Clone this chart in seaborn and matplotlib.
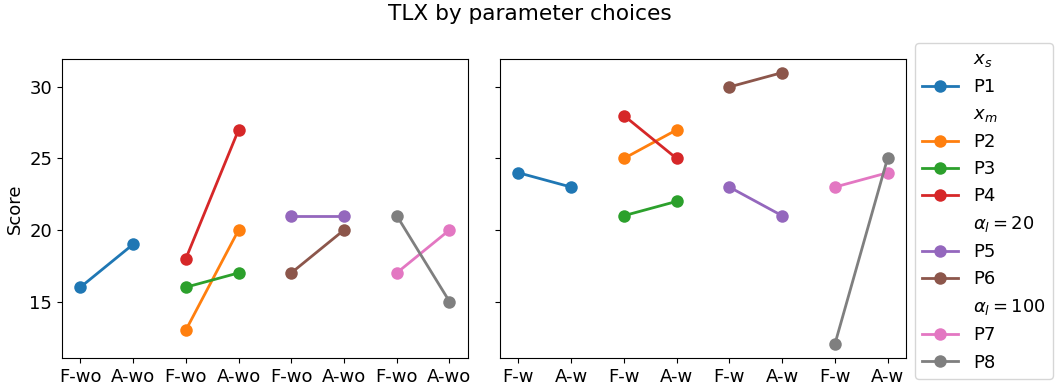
import pandas as pd
import matplotlib.pyplot as plt
import seaborn as sns
from matplotlib.lines import Line2D

# participants and their groups
participants = ["P1", "P2", "P3", "P4", "P5", "P6", "P7", "P8"]
groups = [
    ("$x_s$", ["P1"]),
    ("$x_m$", ["P2", "P3", "P4"]),
    ("$\\alpha_l = 20$", ["P5", "P6"]),
    ("$\\alpha_l = 100$", ["P7", "P8"]),
]

# slot of each participant pair on the x axis (0..3)
slot = [0, 1, 1, 1, 2, 2, 3, 3]

# scores: (first, second) condition
wo_first = [16, 13, 16, 18, 21, 17, 17, 21]
wo_second = [19, 20, 17, 27, 21, 20, 20, 15]
w_first = [24, 25, 21, 28, 23, 30, 23, 12]
w_second = [23, 27, 22, 25, 21, 31, 24, 25]

left_labels = ["F-wo", "A-wo"] * 4
right_labels = ["F-w", "A-w"] * 4

plt.rcParams["font.size"] = 13

rows = []
for i, p in enumerate(participants):
    rows.append({"panel": "wo", "participant": p, "pos": 2 * slot[i], "score": wo_first[i]})
    rows.append({"panel": "wo", "participant": p, "pos": 2 * slot[i] + 1, "score": wo_second[i]})
    rows.append({"panel": "w", "participant": p, "pos": 2 * slot[i], "score": w_first[i]})
    rows.append({"panel": "w", "participant": p, "pos": 2 * slot[i] + 1, "score": w_second[i]})
df = pd.DataFrame(rows)

palette = dict(zip(participants, sns.color_palette("tab10", 8)))

fig, axes = plt.subplots(1, 2, figsize=(10.59, 3.86), dpi=100, sharey=True)
fig.subplots_adjust(left=0.0585, right=0.8555, bottom=0.0725, top=0.847, wspace=0.079)

for ax, panel, labels in zip(axes, ["wo", "w"], [left_labels, right_labels]):
    sns.lineplot(data=df[df["panel"] == panel], x="pos", y="score", hue="participant",
                 palette=palette, marker="o", markersize=9, markeredgewidth=0,
                 linewidth=2, ax=ax, legend=False, errorbar=None)
    ax.set_xticks(range(8))
    ax.set_xticklabels(labels)
    ax.set_xlabel("")
    ax.set_ylabel("")

axes[0].set_ylabel("Score")
axes[0].set_yticks([15, 20, 25, 30])

handles, labels = [], []
for title, members in groups:
    handles.append(Line2D([], [], color="none"))
    labels.append(title)
    for p in members:
        handles.append(Line2D([], [], color=palette[p], marker="o", markersize=9,
                              markeredgewidth=0, linewidth=2))
        labels.append(p)

fig.legend(handles, labels, loc="upper left", bbox_to_anchor=(915 / 1059, 1 - 43 / 386),
           borderaxespad=0)
fig.suptitle("TLX by parameter choices", fontsize=15.6, y=0.99)

plt.savefig("out.png", dpi=100)
plt.close()
